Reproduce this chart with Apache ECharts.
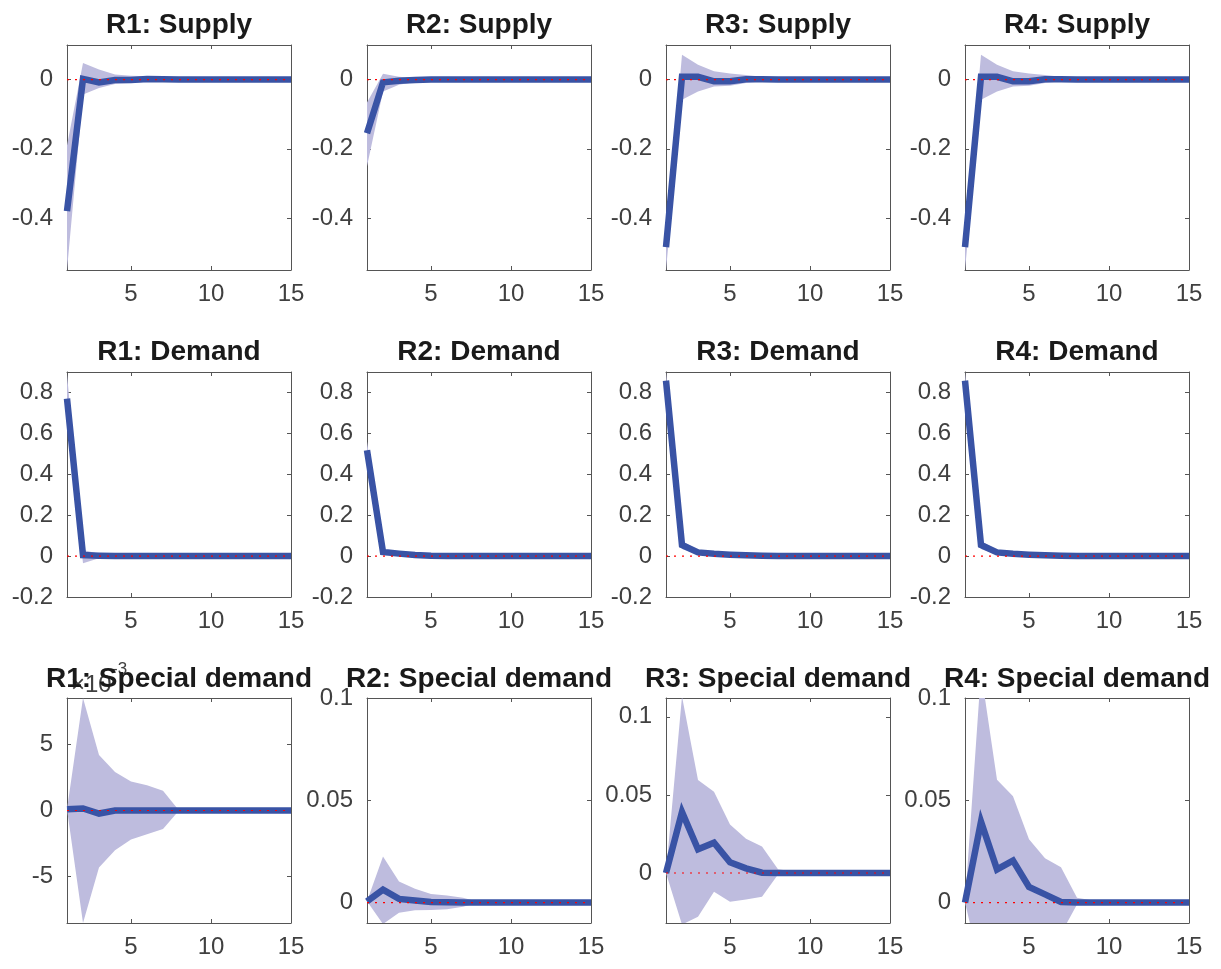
<!DOCTYPE html>
<html><head><meta charset="utf-8">
<script src="https://cdn.jsdelivr.net/npm/echarts@6/dist/echarts.min.js"></script>
<style>html,body{margin:0;padding:0;background:#fff}#c{width:1221px;height:969px}</style>
</head><body><div id="c"></div>
<script>
// ---------- data ----------
const periods = [1,2,3,4,5,6,7,8,9,10,11,12,13,14,15];
const xTicks = [5,10,15];

const titles = [
  'R1: Supply','R2: Supply','R3: Supply','R4: Supply',
  'R1: Demand','R2: Demand','R3: Demand','R4: Demand',
  'R1: Special demand','R2: Special demand','R3: Special demand','R4: Special demand'
];

// Supply
const sup1Mid = [-0.38, 0.002, -0.008, -0.001, -0.001, 0.002, 0.001, 0, 0, 0, 0, 0, 0, 0, 0];
const sup1Lo  = [-0.55, -0.043, -0.024, -0.013, -0.01, -0.007, -0.004, -0.002, -0.001, 0, 0, 0, 0, 0, 0];
const sup1Hi  = [-0.19, 0.048, 0.029, 0.015, 0.011, 0.01, 0.006, 0.003, 0.001, 0, 0, 0, 0, 0, 0];
const sup2Mid = [-0.155, -0.008, -0.003, -0.001, 0, 0, 0, 0, 0, 0, 0, 0, 0, 0, 0];
const sup2Lo  = [-0.25, -0.034, -0.015, -0.007, -0.004, -0.002, -0.001, 0, 0, 0, 0, 0, 0, 0, 0];
const sup2Hi  = [-0.066, 0.017, 0.008, 0.005, 0.003, 0.002, 0.001, 0, 0, 0, 0, 0, 0, 0, 0];
const sup3Mid = [-0.484, 0.008, 0.008, -0.005, -0.005, 0.001, 0.001, 0, 0, 0, 0, 0, 0, 0, 0];
const sup3Lo  = [-0.55, -0.058, -0.034, -0.02, -0.018, -0.01, -0.005, -0.002, -0.001, 0, 0, 0, 0, 0, 0];
const sup3Hi  = [-0.46, 0.072, 0.043, 0.024, 0.018, 0.013, 0.008, 0.003, 0.001, 0, 0, 0, 0, 0, 0];
const sup4Mid = [-0.484, 0.008, 0.008, -0.005, -0.005, 0.001, 0.001, 0, 0, 0, 0, 0, 0, 0, 0];
const sup4Lo  = [-0.55, -0.058, -0.034, -0.02, -0.018, -0.01, -0.005, -0.002, -0.001, 0, 0, 0, 0, 0, 0];
const sup4Hi  = [-0.46, 0.072, 0.043, 0.024, 0.018, 0.013, 0.008, 0.003, 0.001, 0, 0, 0, 0, 0, 0];

// Demand
const dem1Mid = [0.77, 0.005, 0.002, 0, 0, 0, 0, 0, 0, 0, 0, 0, 0, 0, 0];
const dem1Lo  = [0.66, -0.035, -0.01, -0.004, -0.002, -0.001, 0, 0, 0, 0, 0, 0, 0, 0, 0];
const dem1Hi  = [0.89, 0.03, 0.012, 0.005, 0.002, 0.001, 0, 0, 0, 0, 0, 0, 0, 0, 0];
const dem2Mid = [0.517, 0.02, 0.012, 0.005, 0.002, 0.001, 0, 0, 0, 0, 0, 0, 0, 0, 0];
const dem2Lo  = [0.48, 0.006, 0.004, 0.001, 0, 0, 0, 0, 0, 0, 0, 0, 0, 0, 0];
const dem2Hi  = [0.56, 0.032, 0.018, 0.009, 0.004, 0.002, 0.001, 0, 0, 0, 0, 0, 0, 0, 0];
const dem3Mid = [0.858, 0.054, 0.018, 0.011, 0.007, 0.004, 0.002, 0.001, 0, 0, 0, 0, 0, 0, 0];
const dem3Lo  = [0.82, 0.035, 0.008, 0.004, 0.002, 0.001, 0, 0, 0, 0, 0, 0, 0, 0, 0];
const dem3Hi  = [0.9, 0.075, 0.03, 0.02, 0.013, 0.008, 0.005, 0.002, 0.001, 0, 0, 0, 0, 0, 0];
const dem4Mid = [0.858, 0.054, 0.018, 0.011, 0.007, 0.004, 0.002, 0.001, 0, 0, 0, 0, 0, 0, 0];
const dem4Lo  = [0.82, 0.035, 0.008, 0.004, 0.002, 0.001, 0, 0, 0, 0, 0, 0, 0, 0, 0];
const dem4Hi  = [0.9, 0.075, 0.03, 0.02, 0.013, 0.008, 0.005, 0.002, 0.001, 0, 0, 0, 0, 0, 0];

// Special demand
const spe1Mid = [0.0001, 0.00015, -0.00023, 0, 0, 0, 0, 0, 0, 0, 0, 0, 0, 0, 0];
const spe1Lo  = [0.0001, -0.0085, -0.0043, -0.003, -0.0022, -0.0018, -0.0014, 0, 0, 0, 0, 0, 0, 0, 0];
const spe1Hi  = [0.0001, 0.0085, 0.0042, 0.0029, 0.0022, 0.0019, 0.0015, 0, 0, 0, 0, 0, 0, 0, 0];
const spe2Mid = [0.0006, 0.0063, 0.0018, 0.001, 0.0003, 0.0001, 0, 0, 0, 0, 0, 0, 0, 0, 0];
const spe2Lo  = [0.0006, -0.0105, -0.005, -0.0038, -0.0037, -0.0033, -0.002, 0, 0, 0, 0, 0, 0, 0, 0];
const spe2Hi  = [0.0006, 0.0225, 0.0103, 0.0067, 0.0042, 0.0034, 0.0023, 0.0003, 0, 0, 0, 0, 0, 0, 0];
const spe3Mid = [0, 0.039, 0.0152, 0.0194, 0.0069, 0.003, 0.0002, 0, 0, 0, 0, 0, 0, 0, 0];
const spe3Lo  = [0, -0.033, -0.028, -0.012, -0.0184, -0.0169, -0.0152, -0.001, -0.0005, 0, 0, 0, 0, 0, 0];
const spe3Hi  = [0, 0.113, 0.0596, 0.052, 0.031, 0.022, 0.0169, 0.0024, 0.001, 0, 0, 0, 0, 0, 0];
const spe4Mid = [0, 0.0395, 0.0162, 0.0205, 0.0076, 0.004, 0.0003, 0, 0, 0, 0, 0, 0, 0, 0];
const spe4Lo  = [0, -0.033, -0.028, -0.012, -0.0184, -0.0169, -0.0152, -0.001, -0.0005, 0, 0, 0, 0, 0, 0];
const spe4Hi  = [0, 0.113, 0.06, 0.052, 0.031, 0.0217, 0.0173, 0.0024, 0.001, 0, 0, 0, 0, 0, 0];

// axis limits and tick labels
const supplyRange = [-0.55, 0.1];
const demandRange = [-0.2, 0.9];
const spe1Range = [-0.0085, 0.0085];
const spe2Range = [-0.01, 0.1];
const spe3Range = [-0.032, 0.112];
const spe4Range = [-0.01, 0.1];
const supplyTicks = [-0.4, -0.2, 0];
const demandTicks = [-0.2, 0, 0.2, 0.4, 0.6, 0.8];
const spe1Ticks = [-0.005, 0, 0.005];
const speTicks = [0, 0.05, 0.1];

// ---------- layout / style ----------
const colLeft = [67, 367, 666, 965];
const rowTop = [45, 372, 698];
const titleY = [25, 352, 679];
const W = 224, H = 225;
const FONT = '"Liberation Sans", Helvetica, Arial, sans-serif';
const AX = '#555555', TXT = '#404040';
const BAND = '#bebcde', LINE = '#3953a5';

const fmtNum = v => String(+Number(v).toFixed(6));
const fmtE3 = v => String(Math.round(v * 1000));

const panels = [
  {mid: sup1Mid, lo: sup1Lo, hi: sup1Hi, range: supplyRange, ticks: supplyTicks, fmt: fmtNum},
  {mid: sup2Mid, lo: sup2Lo, hi: sup2Hi, range: supplyRange, ticks: supplyTicks, fmt: fmtNum},
  {mid: sup3Mid, lo: sup3Lo, hi: sup3Hi, range: supplyRange, ticks: supplyTicks, fmt: fmtNum},
  {mid: sup4Mid, lo: sup4Lo, hi: sup4Hi, range: supplyRange, ticks: supplyTicks, fmt: fmtNum},
  {mid: dem1Mid, lo: dem1Lo, hi: dem1Hi, range: demandRange, ticks: demandTicks, fmt: fmtNum},
  {mid: dem2Mid, lo: dem2Lo, hi: dem2Hi, range: demandRange, ticks: demandTicks, fmt: fmtNum},
  {mid: dem3Mid, lo: dem3Lo, hi: dem3Hi, range: demandRange, ticks: demandTicks, fmt: fmtNum},
  {mid: dem4Mid, lo: dem4Lo, hi: dem4Hi, range: demandRange, ticks: demandTicks, fmt: fmtNum},
  {mid: spe1Mid, lo: spe1Lo, hi: spe1Hi, range: spe1Range, ticks: spe1Ticks, fmt: fmtE3},
  {mid: spe2Mid, lo: spe2Lo, hi: spe2Hi, range: spe2Range, ticks: speTicks, fmt: fmtNum},
  {mid: spe3Mid, lo: spe3Lo, hi: spe3Hi, range: spe3Range, ticks: speTicks, fmt: fmtNum},
  {mid: spe4Mid, lo: spe4Lo, hi: spe4Hi, range: spe4Range, ticks: speTicks, fmt: fmtNum}
];

const grid = [], xAxis = [], yAxis = [], series = [], graphic = [];
const xCats = periods.map(String);
const isXTick = (i, v) => xTicks.indexOf(Number(v)) >= 0;

// exponent label of the R1 special-demand panel (drawn first, below title)
graphic.push({type: 'text', left: 71, top: 673, z: 10,
  style: {text: '×10', font: '24px ' + FONT, fill: TXT}});
graphic.push({type: 'text', left: 112, top: 661, z: 10,
  style: {text: '-3', font: '17px ' + FONT, fill: TXT}});

panels.forEach((p, i) => {
  const r = Math.floor(i / 4), c = i % 4;
  const left = colLeft[c], top = rowTop[r];
  grid.push({left: left, top: top, width: W, height: H, containLabel: false});
  const xBase = {
    gridIndex: i, type: 'category', data: xCats, boundaryGap: false,
    axisLine: {show: true, onZero: false, lineStyle: {color: AX, width: 1}},
    axisTick: {show: true, inside: true, length: 4, interval: isXTick, lineStyle: {color: AX}},
    splitLine: {show: false}
  };
  xAxis.push(Object.assign({}, xBase, {position: 'bottom',
    axisLabel: {show: true, interval: isXTick, fontSize: 24, color: TXT, fontFamily: FONT, margin: 12}}));
  xAxis.push(Object.assign({}, xBase, {position: 'top', axisLabel: {show: false}}));
  const yBase = {
    gridIndex: i, type: 'value', min: p.range[0], max: p.range[1],
    axisLine: {show: true, onZero: false, lineStyle: {color: AX, width: 1}},
    axisTick: {show: true, inside: true, length: 4, customValues: p.ticks, lineStyle: {color: AX}},
    splitLine: {show: false}
  };
  yAxis.push(Object.assign({}, yBase, {position: 'left',
    axisLabel: {show: true, customValues: p.ticks, formatter: p.fmt, fontSize: 24, color: TXT, fontFamily: FONT, margin: 14}}));
  yAxis.push(Object.assign({}, yBase, {position: 'right', axisLabel: {show: false}}));

  const xi = 2 * i, yi = 2 * i;
  const stackId = 'band' + i;
  series.push({
    type: 'line', xAxisIndex: xi, yAxisIndex: yi, stack: stackId, stackStrategy: 'all',
    data: p.lo, symbol: 'none', showSymbol: false, silent: true,
    lineStyle: {width: 0, opacity: 0}, z: 1
  });
  series.push({
    type: 'line', xAxisIndex: xi, yAxisIndex: yi, stack: stackId, stackStrategy: 'all',
    data: p.hi.map((h, k) => h - p.lo[k]), symbol: 'none', showSymbol: false, silent: true,
    lineStyle: {width: 0, opacity: 0}, areaStyle: {color: BAND, opacity: 1}, z: 1
  });
  series.push({
    type: 'line', xAxisIndex: xi, yAxisIndex: yi, data: p.mid, symbol: 'none', showSymbol: false,
    silent: true, clip: false,
    lineStyle: {width: 6.5, color: LINE, join: 'miter', cap: 'butt'}, z: 3
  });
  series.push({
    type: 'line', xAxisIndex: xi, yAxisIndex: yi, data: periods.map(() => 0), symbol: 'none',
    showSymbol: false, silent: true,
    lineStyle: {width: 1.2, color: '#ff0000', type: [2, 6]}, z: 4
  });

  graphic.push({type: 'text', x: left + W / 2, y: titleY[r], z: 20,
    style: {text: titles[i], font: 'bold 28px ' + FONT, fill: '#1a1a1a', textAlign: 'center', textVerticalAlign: 'middle'}});
});

const chart = echarts.init(document.getElementById('c'), null, {renderer: 'canvas'});
chart.setOption({
  animation: false,
  backgroundColor: '#ffffff',
  grid: grid, xAxis: xAxis, yAxis: yAxis, series: series, graphic: graphic
});
</script></body></html>
